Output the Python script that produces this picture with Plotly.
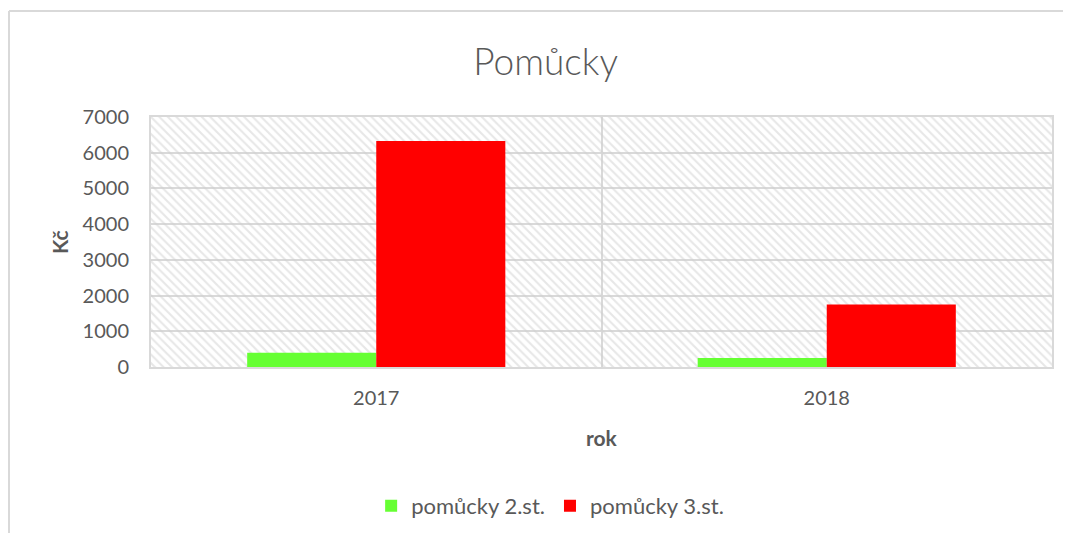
import plotly.graph_objects as go

years = ["2017", "2018"]
series_names = ["pomůcky 2.st.", "pomůcky 3.st."]
values_2st = [400, 250]
values_3st = [6330, 1750]
y_ticks = [0, 1000, 2000, 3000, 4000, 5000, 6000, 7000]

FONT = "Lato, 'Open Sans', sans-serif"
TXT = "#595959"
GRID = "#d9d9d9"

fig = go.Figure()

# hatched plot-area background (decorative), on the base axes (drawn below)
fig.add_trace(go.Bar(
    x=[0], y=[1], xaxis="x", yaxis="y", width=[1],
    marker=dict(color="rgba(0,0,0,0)", line=dict(width=0),
                pattern=dict(shape="\\", fgcolor="#cfcfcf", bgcolor="rgba(0,0,0,0)",
                             size=6, solidity=0.35, fillmode="overlay")),
    showlegend=False, hoverinfo="skip"))

# data on overlay axes (drawn above the hatch)
fig.add_trace(go.Bar(x=years, y=values_2st, name=series_names[0], xaxis="x2", yaxis="y2",
                     marker=dict(color="#66FF33", line=dict(width=0))))
fig.add_trace(go.Bar(x=years, y=values_3st, name=series_names[1], xaxis="x2", yaxis="y2",
                     marker=dict(color="#FF0000", line=dict(width=0))))

fig.update_layout(
    width=1071, height=533,
    margin=dict(l=143, r=27, t=109, b=174),
    paper_bgcolor="white", plot_bgcolor="white",
    barmode="group", bargap=0.427, bargroupgap=0,
    font=dict(family=FONT, color=TXT, size=20),
    title=dict(text="Pomůcky", x=0.502, xanchor="center", y=0.899, yanchor="middle",
               font=dict(size=37, color=TXT, family=FONT, weight=300)),
    showlegend=True,
    legend=dict(orientation="h", x=0.443, xanchor="center", y=-0.556, yanchor="middle",
                font=dict(size=22, color=TXT), traceorder="normal"),
    xaxis=dict(range=[-0.5, 0.5], visible=False, fixedrange=True),
    yaxis=dict(range=[0, 1], visible=False, fixedrange=True),
    xaxis2=dict(overlaying="x", type="category", showgrid=True, gridcolor=GRID, gridwidth=2,
                tickson="boundaries", ticks="", showline=True, linecolor=GRID,
                linewidth=2, mirror=True, tickfont=dict(size=20, color=TXT),
                ticklabelstandoff=12, zeroline=False, side="bottom"),
    yaxis2=dict(overlaying="y", range=[0, 7000], tickvals=y_ticks, showgrid=True,
                gridcolor=GRID, gridwidth=2, showline=True, linecolor=GRID, linewidth=2,
                mirror=True, ticks="", tickfont=dict(size=20, color=TXT),
                ticklabelstandoff=16, zeroline=False, side="left"),
    annotations=[
        dict(text="<b>Kč</b>", x=-0.102, y=0.5, xref="paper", yref="paper",
             textangle=-90, showarrow=False, font=dict(size=21, color=TXT),
             xanchor="center", yanchor="middle"),
        dict(text="<b>rok</b>", x=0.5, y=-0.28, xref="paper", yref="paper",
             showarrow=False, font=dict(size=21, color=TXT),
             xanchor="center", yanchor="middle"),
    ],
    shapes=[
        dict(type="line", xref="paper", yref="paper", x0=-0.1576, x1=-0.1576,
             y0=-0.7, y1=1.424, line=dict(color=GRID, width=2)),
        dict(type="line", xref="paper", yref="paper", x0=-0.1576, x1=1.05,
             y0=1.424, y1=1.424, line=dict(color=GRID, width=2)),
    ],
)

fig.write_html("out.html")
